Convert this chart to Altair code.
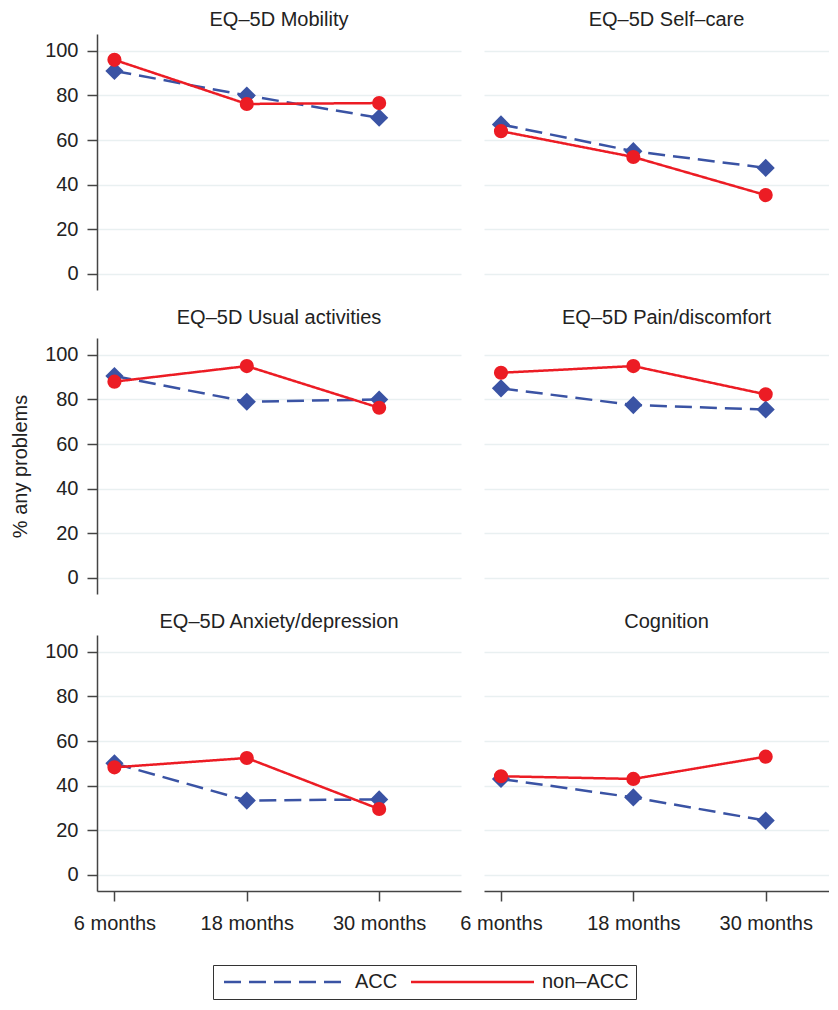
import altair as alt
import pandas as pd

FONT = "Liberation Sans"

panel_titles = [
    "EQ\u20135D Mobility",
    "EQ\u20135D Self\u2013care",
    "EQ\u20135D Usual activities",
    "EQ\u20135D Pain/discomfort",
    "EQ\u20135D Anxiety/depression",
    "Cognition",
]
months = [6, 18, 30]
month_labels = ["6 months", "18 months", "30 months"]
groups = ["ACC", "non\u2013ACC"]

acc_values = [
    [91.0, 80.0, 70.0],
    [67.0, 55.0, 47.5],
    [90.5, 79.0, 80.0],
    [85.0, 77.5, 75.5],
    [50.0, 33.3, 33.8],
    [43.0, 34.7, 24.3],
]
nonacc_values = [
    [96.0, 76.2, 76.6],
    [64.0, 52.4, 35.3],
    [88.0, 95.0, 76.3],
    [92.0, 95.0, 82.3],
    [48.2, 52.4, 29.5],
    [44.2, 43.0, 53.0],
]
y_ticks = [0, 20, 40, 60, 80, 100]

rows = []
for i, title in enumerate(panel_titles):
    for g, series in zip(groups, [acc_values[i], nonacc_values[i]]):
        for m, v in zip(months, series):
            rows.append({"panel": title, "group": g, "month": m, "value": v})
df = pd.DataFrame(rows)

line_colors = ["#3a53a4", "#ec1c24"]
color_scale = alt.Scale(domain=groups, range=line_colors)
dash_scale = alt.Scale(domain=groups, range=[[17, 8], [1, 0]])
# marker scales use the reversed domain order so that they stay out of the line legend
rev_groups = groups[::-1]
fill_scale = alt.Scale(domain=rev_groups, range=line_colors[::-1])
shape_scale = alt.Scale(domain=rev_groups, range=["circle", "diamond"])
size_scale = alt.Scale(domain=rev_groups, range=[200, 330])
y_scale = alt.Scale(domain=[-7.3, 107.6], nice=False, zero=False)

label_expr = " : ".join(
    f"datum.value == {m} ? '{lab}'" for m, lab in zip(months, month_labels)
) + " : ''"

x_domains = {0: [4.42, 37.42], 1: [4.46, 35.74]}
widths = {0: 364, 1: 345}
title_offsets = {0: 4.5, 1: 10.1, 2: 3.5}
title_dx = {0: 0, 1: 10}

legend = alt.Legend(
    title=None,
    orient="none",
    legendX=116,
    legendY=931,
    direction="horizontal",
    strokeColor="#333333",
    padding=7,
    symbolType="M-1,0H19.5",
    symbolSize=144,
    symbolStrokeWidth=2.5,
    labelOffset=115,
    columnPadding=8,
    labelFontSize=20,
    labelFont=FONT,
    labelColor="#222222",
)

charts = []
for i, title in enumerate(panel_titles):
    row, col = divmod(i, 2)
    sub = df[df["panel"] == title]
    if col == 0:
        yaxis = alt.Axis(
            values=y_ticks,
            title="% any problems" if row == 1 else None,
            grid=True,
            domain=True,
            ticks=True,
            tickSize=10,
            labelPadding=9,
            titlePadding=14,
        )
    else:
        yaxis = alt.Axis(
            values=y_ticks, title=None, grid=True, domain=False, ticks=False, labels=False
        )
    if row == 2:
        xaxis = alt.Axis(
            values=months,
            labelExpr=label_expr,
            title=None,
            grid=False,
            tickSize=10,
            labelPadding=12,
        )
    else:
        xaxis = None
    x = alt.X(
        "month:Q",
        scale=alt.Scale(domain=x_domains[col], nice=False, zero=False),
        axis=xaxis,
    )
    y = alt.Y("value:Q", scale=y_scale, axis=yaxis)
    base = alt.Chart(sub)
    lines = base.mark_line(strokeWidth=2.5).encode(
        x=x,
        y=y,
        color=alt.Color("group:N", scale=color_scale, legend=legend),
        strokeDash=alt.StrokeDash("group:N", scale=dash_scale, legend=legend),
        detail="group:N",
    )
    points = base.mark_point(filled=True, opacity=1, strokeWidth=0).encode(
        x=x,
        y=y,
        fill=alt.Fill("group:N", scale=fill_scale, legend=None),
        shape=alt.Shape("group:N", scale=shape_scale, legend=None),
        size=alt.Size("group:N", scale=size_scale, legend=None),
        order=alt.Order("group:N", sort="ascending"),
    )
    ch = alt.layer(lines, points).properties(
        width=widths[col],
        height=256,
        title=alt.TitleParams(
            title,
            offset=title_offsets[row],
            dx=title_dx[col],
            anchor="middle",
            fontSize=20,
            fontWeight="normal",
            font=FONT,
            color="#222222",
        ),
    )
    charts.append(ch)

chart = (
    alt.concat(*charts, columns=2, spacing={"row": 17, "column": -2})
    .properties(padding={"left": 2, "top": 1, "right": 0, "bottom": 0})
    .configure_view(stroke=None)
    .configure_axis(
        labelFont=FONT,
        titleFont=FONT,
        labelFontSize=20,
        titleFontSize=20,
        titleFontWeight="normal",
        labelColor="#222222",
        titleColor="#222222",
        domainColor="#444444",
        domainWidth=1.5,
        tickColor="#444444",
        tickWidth=1.5,
        gridColor="#e9f0f1",
        gridWidth=1.3,
    )
)

chart.save("out.html", embed_options={"renderer": "svg", "actions": False})
